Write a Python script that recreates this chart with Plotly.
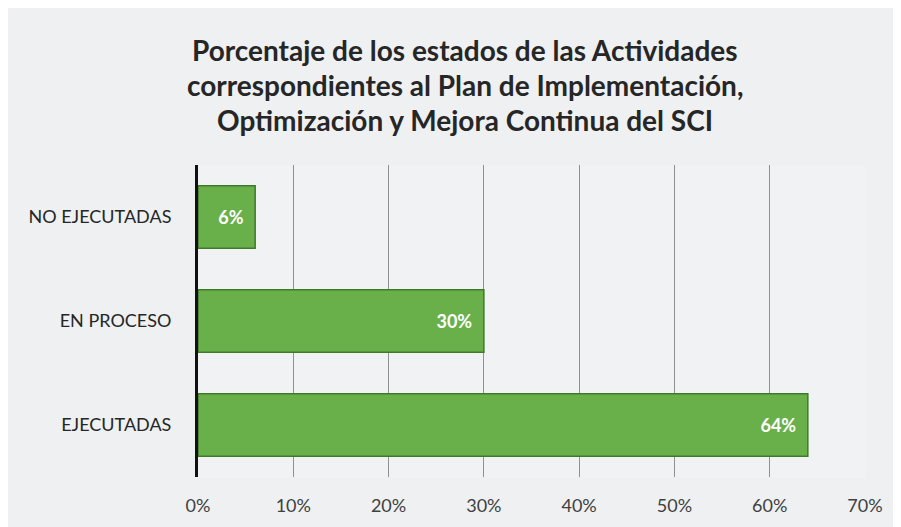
import plotly.graph_objects as go

categories = ["NO EJECUTADAS", "EN PROCESO", "EJECUTADAS"]
values = [0.06, 0.30, 0.64]
value_labels = ["6%", "30%", "64%"]
x_tickvals = [0, 0.1, 0.2, 0.3, 0.4, 0.5, 0.6, 0.7]
x_ticktext = ["0%", "10%", "20%", "30%", "40%", "50%", "60%", "70%"]
title_lines = [
    "Porcentaje de los estados de las Actividades",
    "correspondientes al Plan de Implementación,",
    "Optimización y Mejora Continua del SCI",
]

FONT = "Lato, Open Sans, sans-serif"

# page body has an 8px margin; figure is sized to fit inside the window
W, H = 893, 519
PL, PR, PT, PB = 190, 857, 157, 469

fig = go.Figure()
fig.add_trace(go.Bar(
    y=categories,
    x=values,
    orientation="h",
    width=0.6,
    marker=dict(color="#69b04b", line=dict(color="#3f7a2b", width=1.5)),
    text=value_labels,
    texttemplate="%{text}\u00a0\u00a0",
    textposition="inside",
    insidetextanchor="end",
    textfont=dict(family=FONT, size=18, color="white", weight="bold"),
    hoverinfo="x+y",
))

for i, line in enumerate(title_lines):
    fig.add_annotation(
        text=line, xref="paper", yref="paper",
        x=(457 - PL) / (PR - PL), y=1 + (PT - (42 + 35 * i)) / (PB - PT),
        xanchor="center", yanchor="middle", showarrow=False,
        font=dict(family=FONT, size=28, color="#262626", weight="bold"),
    )

fig.update_layout(
    width=W, height=H,
    margin=dict(l=PL, r=W - PR, t=PT, b=H - PB),
    paper_bgcolor="#eef0f2",
    plot_bgcolor="#f1f2f4",
    showlegend=False,
    xaxis=dict(
        range=[0, 0.7],
        tickvals=x_tickvals,
        ticktext=x_ticktext,
        showgrid=True, gridcolor="#8e9194", gridwidth=1,
        zeroline=False, showline=False,
        ticks="", ticklabelstandoff=16,
        tickfont=dict(family=FONT, size=18, color="#404040"),
    ),
    yaxis=dict(
        categoryorder="array", categoryarray=categories,
        autorange="reversed",
        showgrid=False, zeroline=False,
        showline=True, linecolor="#111111", linewidth=3,
        ticks="", ticklabelstandoff=20,
        tickfont=dict(family=FONT, size=18, color="#262626"),
    ),
)

fig.write_html("out.html")
